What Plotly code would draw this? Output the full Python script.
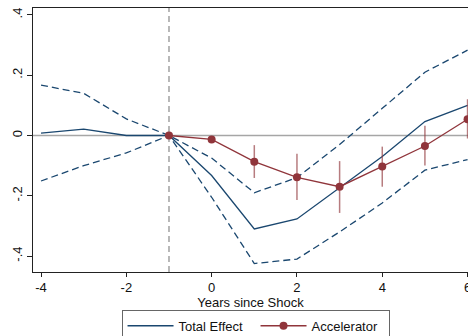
import plotly.graph_objects as go

years = [-4, -3, -2, -1, 0, 1, 2, 3, 4, 5, 6]
total_effect = [0.008, 0.021, 0.0, 0.0, -0.133, -0.31, -0.277, -0.175, -0.07, 0.046, 0.10]
total_upper = [0.167, 0.14, 0.055, 0.0, -0.075, -0.19, -0.14, -0.03, 0.09, 0.21, 0.283]
total_lower = [-0.151, -0.10, -0.058, 0.0, -0.205, -0.425, -0.41, -0.32, -0.224, -0.115, -0.08]

acc_years = [-1, 0, 1, 2, 3, 4, 5, 6]
accelerator = [0.0, -0.013, -0.087, -0.139, -0.17, -0.103, -0.035, 0.054]
acc_upper = [0.0, -0.013, -0.032, -0.061, -0.085, -0.037, 0.032, 0.12]
acc_lower = [0.0, -0.013, -0.141, -0.214, -0.257, -0.17, -0.10, -0.01]

ytick_vals = [-0.4, -0.2, 0, 0.2, 0.4]
ytick_text = ["-.4", "-.2", "0", ".2", ".4"]
xtick_vals = [-4, -2, 0, 2, 4, 6]
xtick_text = ["-4", "-2", "0", "2", "4", "6"]

navy = "#1a476f"
maroon = "#90353b"

fig = go.Figure()
fig.add_trace(go.Scatter(x=years, y=total_upper, mode="lines", showlegend=False,
                         line=dict(color=navy, width=1.3, dash="7px,4px")))
fig.add_trace(go.Scatter(x=years, y=total_lower, mode="lines", showlegend=False,
                         line=dict(color=navy, width=1.3, dash="7px,4px")))
fig.add_trace(go.Scatter(x=years, y=total_effect, mode="lines", name="Total Effect",
                         line=dict(color=navy, width=1.3)))
err_plus = [u - a for u, a in zip(acc_upper, accelerator)]
err_minus = [a - l for a, l in zip(accelerator, acc_lower)]
fig.add_trace(go.Scatter(x=acc_years, y=accelerator, mode="lines+markers", name="Accelerator",
                         line=dict(color=maroon, width=1.3),
                         marker=dict(color=maroon, size=8),
                         error_y=dict(type="data", symmetric=False, array=err_plus,
                                      arrayminus=err_minus, color="rgba(144,53,59,0.65)",
                                      thickness=1.5, width=0)))

fig.add_shape(type="line", xref="paper", yref="y", x0=0, x1=1, y0=0, y1=0,
              line=dict(color="#a6a6a6", width=1.5), layer="below")
fig.add_shape(type="line", xref="x", yref="paper", x0=-1, x1=-1, y0=0, y1=1,
              line=dict(color="#8a8a8a", width=1.2, dash="6px,4px"), layer="below")

fig.update_layout(
    width=468, height=336,
    margin=dict(l=33, r=0, t=8, b=64, autoexpand=False),
    paper_bgcolor="white", plot_bgcolor="white",
    font=dict(family="Liberation Sans, Arial, sans-serif", size=13, color="#111111"),
    showlegend=True,
    legend=dict(orientation="h", xref="container", yref="container",
                x=0.546, xanchor="center", y=0.078, yanchor="top",
                bordercolor="#666666", borderwidth=1, font=dict(size=13),
                itemwidth=46, entrywidth=72, entrywidthmode="pixels",
                tracegroupgap=0),
)
fig.update_xaxes(range=[-4.188, 6.01], tickvals=xtick_vals, ticktext=xtick_text,
                 ticks="outside", ticklen=4,
                 tickcolor="#222222", showline=True, linecolor="#222222", linewidth=1.3,
                 mirror=True, showgrid=False, zeroline=False, ticklabeloverflow="allow",
                 automargin=False, ticklabelstandoff=-1,
                 title=dict(text="Years since Shock", standoff=7, font=dict(size=13)))
fig.update_yaxes(range=[-0.453, 0.423], tickvals=ytick_vals, ticktext=ytick_text,
                 ticks="outside", ticklen=5, tickcolor="#222222", tickangle=-90,
                 showline=True, linecolor="#222222", linewidth=1.3, automargin=False,
                 showgrid=False, zeroline=False)

fig.write_html("out.html")
